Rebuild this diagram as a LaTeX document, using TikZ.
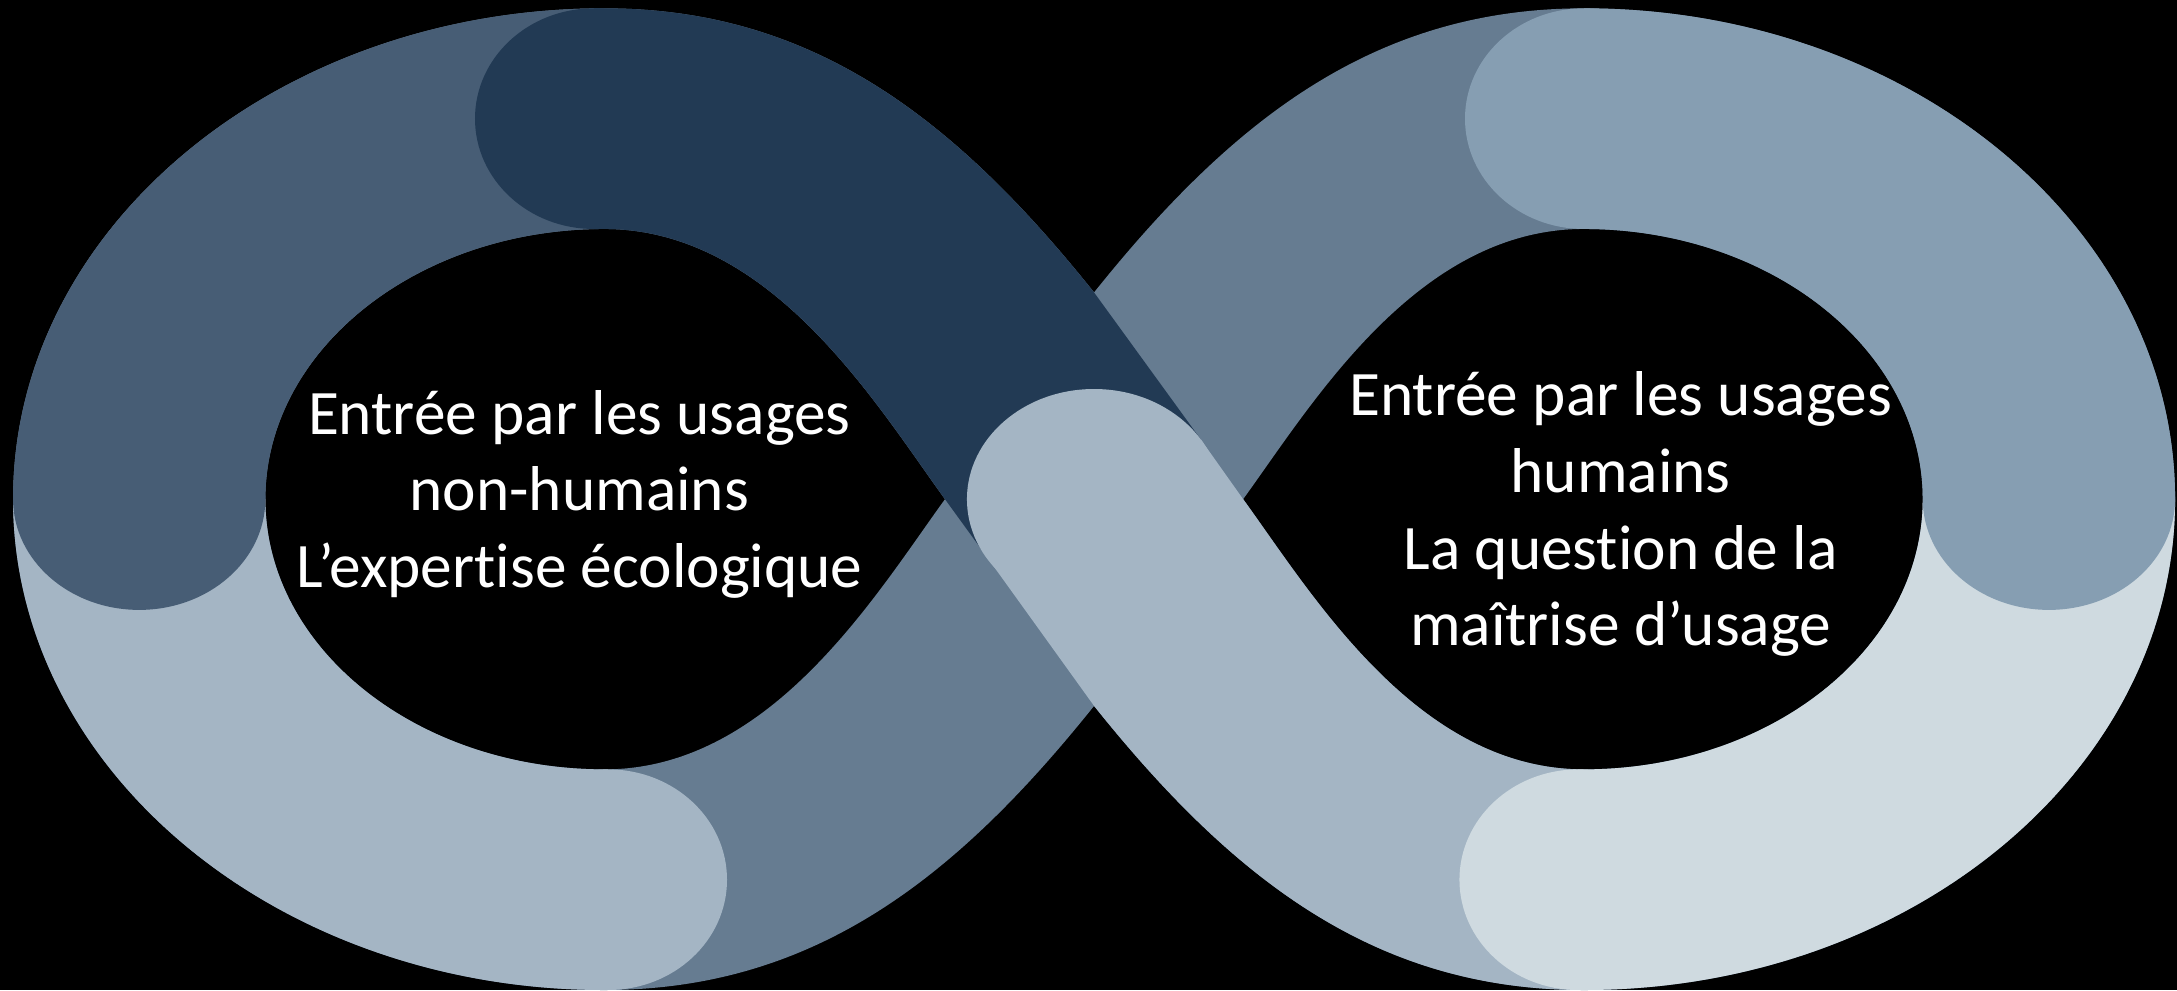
\documentclass[tikz,border=0pt]{standalone}
\usepackage{fontspec}
\setmainfont{Carlito}[Ligatures=NoCommon]
\definecolor{segA}{HTML}{475D75}
\definecolor{segB}{HTML}{223A54}
\definecolor{segC}{HTML}{667C91}
\definecolor{segD}{HTML}{A4B5C4}
\definecolor{segF}{HTML}{869EB2}
\definecolor{segH}{HTML}{CFDAE0}
\def\infband{(787.5,210.5) .. controls (687.5,85.5) and (585,6) .. (435,6)
 .. controls (199.9,6) and (9.4,164.2) .. (9.4,359.3)
 .. controls (9.4,554.4) and (199.9,712.6) .. (435,712.6)
 .. controls (585,712.6) and (687.5,633.1) .. (787.5,508.1)
 .. controls (887.5,633.1) and (990,712.6) .. (1140,712.6)
 .. controls (1375.1,712.6) and (1565.6,554.4) .. (1565.6,359.3)
 .. controls (1565.6,164.2) and (1375.1,6) .. (1140,6)
 .. controls (990,6) and (887.5,85.5) .. (787.5,210.5) -- cycle
 (680.2,359.3) .. controls (630.2,428.3) and (555,553.8) .. (435,553.8)
 .. controls (300.2,553.8) and (191,466.7) .. (191,359.3)
 .. controls (191,251.9) and (300.2,164.8) .. (435,164.8)
 .. controls (555,164.8) and (630.2,290.3) .. (680.2,359.3) -- cycle
 (894.8,359.3) .. controls (944.8,290.3) and (1020,164.8) .. (1140,164.8)
 .. controls (1274.8,164.8) and (1384,251.9) .. (1384,359.3)
 .. controls (1384,466.7) and (1274.8,553.8) .. (1140,553.8)
 .. controls (1020,553.8) and (944.8,428.3) .. (894.8,359.3) -- cycle}
\begin{document}
\begin{tikzpicture}[x=1pt,y=-1pt,
  lbl/.style={text=white,inner sep=0pt,anchor=base,
    font=\fontsize{45.6}{55}\selectfont}]
\useasboundingbox (0,0) rectangle (1567,712.6);
\fill[black] (0,0) rectangle (1567,712.6);
\begin{scope}[even odd rule]
  \clip \infband;
  % strand 2 (lower-left and upper-right parts), lying under everything
  \fill[segC] (-10,-10) rectangle (1590,725);
  % lower-left part of the left loop
  \fill[segD] (-10,359.3) rectangle (437.8,725);
  \fill[segD] (437.8,633.2) ellipse [x radius=85.5, y radius=79.4];
  % upper-left part of the left loop
  \fill[segA] (-10,-10) rectangle (427.4,359.3);
  \fill[segA] (100.2,359.3) ellipse [x radius=90.8, y radius=79.7];
  % top of the left loop down to the crossing
  \fill[segB] (427.4,-10) -- (787.5,-10) -- (787.5,210.5) -- (864.4,316.4)
    -- (711.1,401.9) -- (680.2,359.3) -- (427.4,359.3) -- cycle;
  \fill[segB] (427.4,85.4) ellipse [x radius=85.5, y radius=79.4];
  % from the crossing down to the bottom of the right loop
  \fill[segD] (864.4,316.4) -- (711.1,401.9) -- (787.5,508.1) -- (787.5,725)
    -- (1136,725) -- (1136,359.3) -- (894.8,359.3) -- cycle;
  \fill[segD] (787.5,359.3) ellipse [x radius=91.5, y radius=79.3];
  % lower-right part of the right loop
  \fill[segH] (1136,359.3) rectangle (1590,725);
  \fill[segH] (1136,633.2) ellipse [x radius=85.5, y radius=79.4];
  % upper-right part of the right loop
  \fill[segF] (1140,-10) rectangle (1590,359.3);
  \fill[segF] (1140,85.4) ellipse [x radius=85.5, y radius=79.4];
  \fill[segF] (1474.8,359.3) ellipse [x radius=90.8, y radius=79.7];
\end{scope}
\node[lbl] (l1) at (417,312.5) {Entrée par les usages};
\node[lbl] (l2) at (417,367.8) {non-humains};
\node[lbl] (l3) at (417,423.1) {L’expertise écologique};
\node[lbl] (r1) at (1166.5,299) {Entrée par les usages};
\node[lbl] (r2) at (1166.5,354.3) {humains};
\node[lbl] (r3) at (1166.5,409.6) {La question de la};
\node[lbl] (r4) at (1166.5,464.9) {maîtrise d’usage};
\end{tikzpicture}
\end{document}
